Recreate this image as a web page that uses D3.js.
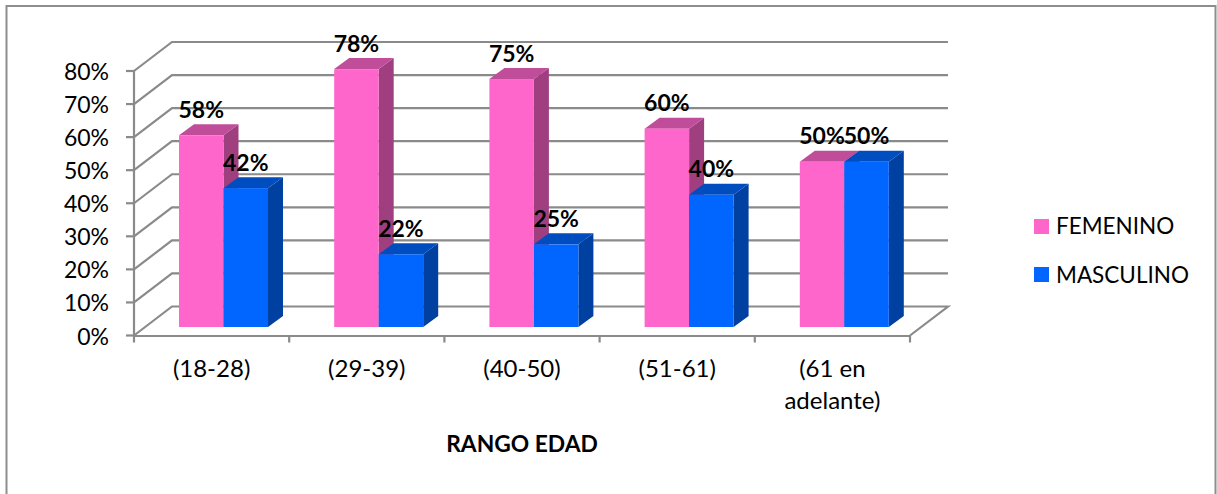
<!DOCTYPE html>
<html>
<head>
<meta charset="utf-8">
<script src="https://cdn.jsdelivr.net/npm/d3@7"></script>
<style>
  html, body { margin: 0; padding: 0; background: #fff; }
  svg { display: block; }
  text { font-family: Lato, "Open Sans", sans-serif; fill: #000; }
</style>
</head>
<body>
<svg id="chart" width="1217" height="494"></svg>
<script>
const categories = ["(18-28)", "(29-39)", "(40-50)", "(51-61)", "(61 en|adelante)"];
const femenino = [58, 78, 75, 60, 50];
const masculino = [42, 22, 25, 40, 50];
const seriesNames = ["FEMENINO", "MASCULINO"];
const yTicks = [0, 10, 20, 30, 40, 50, 60, 70, 80];
const axisTitle = "RANGO EDAD";

const front = { "face": ["#ff66cc", "#0066ff"], "top": ["#bf4d99", "#004dbf"], "side": ["#a03f80", "#0040a0"] };
const gridColor = "#8a8a8a";
const fontSize = 23;

const svg = d3.select("#chart");

// Plot box: front edge of the floor plus the depth offset of the back wall
const x = d3.scaleBand().domain(categories).range([134, 910]);
const y = d3.scaleLinear().domain([0, 80]).range([335.5, 71]);
const wallDx = 38, wallDy = -29;
const barDx = 15, barDy = -11, barLift = 8.5, barW = 44.5, barInset = 45;

// Outer frame runs off the bottom of the page
svg.append("rect").attr("x", 6.5).attr("y", 6).attr("width", 1209).attr("height", 500)
  .attr("fill", "#fff").attr("stroke", "#8e8e8e").attr("stroke-width", 2);

// Back wall gridlines with their slanted run along the left wall
const grid = svg.append("g").attr("fill", "none").attr("stroke", gridColor).attr("stroke-width", 2.2);
yTicks.forEach(t => {
  const path = d3.path();
  path.moveTo(x.range()[0], y(t));
  path.lineTo(x.range()[0] + wallDx, y(t) + wallDy);
  path.lineTo(x.range()[1] + wallDx, y(t) + wallDy);
  if (t === 0) path.lineTo(x.range()[1], y(t));
  grid.append("path").attr("d", path.toString());
});

// Value axis
const yAxis = svg.append("g").attr("stroke", gridColor).attr("stroke-width", 2.2);
yAxis.append("line").attr("x1", x.range()[0]).attr("x2", x.range()[0]).attr("y1", y(80)).attr("y2", y(0) + 7);
yTicks.forEach(t => {
  yAxis.append("line").attr("x1", 126).attr("x2", x.range()[0]).attr("y1", y(t)).attr("y2", y(t));
});
svg.append("g").selectAll("text").data(yTicks).join("text")
  .attr("x", 109).attr("y", d => y(d) + 9).attr("text-anchor", "end")
  .attr("font-size", fontSize).text(d => d + "%");

// Category axis
const xAxis = svg.append("g").attr("stroke", gridColor).attr("stroke-width", 2.2);
xAxis.append("line").attr("x1", x.range()[0] - 1).attr("x2", x.range()[1]).attr("y1", y(0) + 0.5).attr("y2", y(0) + 0.5);
categories.forEach(c => {
  const xt = x(c) + x.bandwidth();
  xAxis.append("line").attr("x1", xt).attr("x2", xt).attr("y1", y(0)).attr("y2", y(0) + 7);
});

// Prisms, drawn category by category so the blue bar overlaps the pink side
const bars = svg.append("g");
const barTop = v => y(v) - barLift;
const pts = a => a.map(p => p.join(",")).join(" ");
categories.forEach((c, i) => {
  [femenino[i], masculino[i]].forEach((v, s) => {
    const x0 = x(c) + barInset + s * barW, x1 = x0 + barW;
    const yT = barTop(v), yB = barTop(0);
    bars.append("polygon").attr("fill", front.side[s])
      .attr("points", pts([[x1, yT], [x1 + barDx, yT + barDy], [x1 + barDx, yB + barDy], [x1, yB]]));
    bars.append("polygon").attr("fill", front.top[s])
      .attr("points", pts([[x0, yT], [x0 + barDx, yT + barDy], [x1 + barDx, yT + barDy], [x1, yT]]));
    bars.append("rect").attr("x", x0).attr("y", yT).attr("width", barW).attr("height", yB - yT)
      .attr("fill", front.face[s]);
  });
});

// Value labels
const labels = svg.append("g");
categories.forEach((c, i) => {
  [femenino[i], masculino[i]].forEach((v, s) => {
    labels.append("text")
      .attr("x", x(c) + barInset + s * barW + barW / 2)
      .attr("y", barTop(v) - 17.5)
      .attr("text-anchor", "middle").attr("font-weight", 700).attr("font-size", fontSize)
      .text(v + "%");
  });
});

// Category labels, wrapped on "|"
const catLabels = svg.append("g");
categories.forEach(c => {
  c.split("|").forEach((line, j) => {
    catLabels.append("text")
      .attr("x", x(c) + x.bandwidth() / 2)
      .attr("y", 376.5 + j * 32)
      .attr("text-anchor", "middle").attr("font-size", 24)
      .text(line);
  });
});

svg.append("text").attr("x", 522).attr("y", 451.5).attr("text-anchor", "middle")
  .attr("font-weight", 700).attr("font-size", 22.8).text(axisTitle);

// Legend
const legend = svg.append("g");
seriesNames.forEach((name, i) => {
  legend.append("rect").attr("x", 1034).attr("y", 219 + i * 48).attr("width", 15).attr("height", 15)
    .attr("fill", front.face[i]);
  legend.append("text").attr("x", 1056).attr("y", 234 + i * 49)
    .attr("font-size", 22.5).text(name);
});
</script>
</body>
</html>
